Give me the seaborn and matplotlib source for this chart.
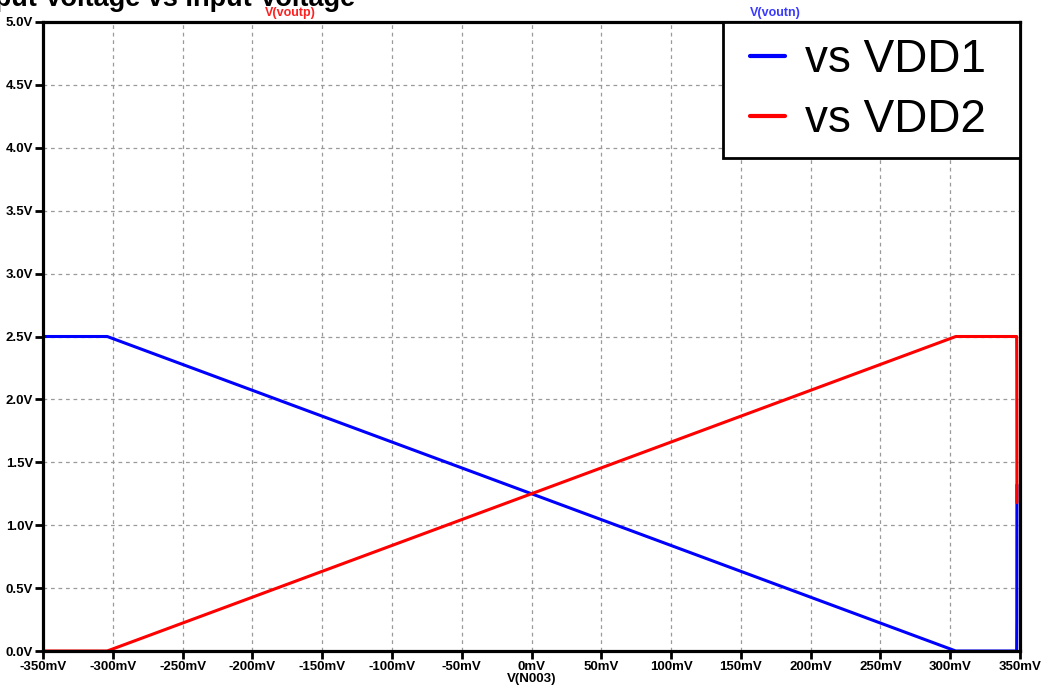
import numpy as np
import pandas as pd
import matplotlib
matplotlib.use("Agg")
import matplotlib.pyplot as plt
from matplotlib.lines import Line2D
from matplotlib.legend_handler import HandlerLine2D
import seaborn as sns

# Input sweep (mV) and the two output node voltages (V)
vin_mv = [-350, -304, 304, 347.6, 347.7, 347.8]
voutn = [2.5, 2.5, 0.0, 0.0, 0.25, 1.32]
voutp = [0.0, 0.0, 2.5, 2.5, 2.2, 1.18]

x_ticks_mv = [-350, -300, -250, -200, -150, -100, -50, 0, 50, 100, 150, 200, 250, 300, 350]
y_ticks_v = [0.0, 0.5, 1.0, 1.5, 2.0, 2.5, 3.0, 3.5, 4.0, 4.5, 5.0]

series_names = ["vs VDD1", "vs VDD2"]
series_colors = ["#0000ff", "#ff0000"]

df = pd.concat([
    pd.DataFrame({"vin": vin_mv, "vout": voutn, "trace": series_names[0]}),
    pd.DataFrame({"vin": vin_mv, "vout": voutp, "trace": series_names[1]}),
])

sns.set_style("white")
plt.rcParams["font.family"] = ["Liberation Sans", "DejaVu Sans"]
plt.rcParams["text.color"] = "black"
plt.rcParams["xtick.color"] = "black"
plt.rcParams["ytick.color"] = "black"
plt.rcParams["axes.labelcolor"] = "black"

fig = plt.figure(figsize=(10.49, 6.94), dpi=100)
ax = fig.add_axes([43 / 1049, 1 - 651 / 694, (1020 - 43) / 1049, (651 - 22) / 694])

sns.lineplot(data=df, x="vin", y="vout", hue="trace", palette=series_colors,
             hue_order=series_names, sort=False, estimator=None,
             linewidth=2.2, ax=ax, legend=True)

ax.set_xlim(-350, 350)
ax.set_ylim(0, 5)
ax.set_xticks(x_ticks_mv)
ax.set_xticklabels([f"{v}mV" for v in x_ticks_mv], fontweight="bold", fontsize=9.5)
ax.set_yticks(y_ticks_v)
ax.set_yticklabels([f"{v:.1f}V" for v in y_ticks_v], fontweight="bold", fontsize=9.5)
ax.tick_params(axis="both", direction="out", length=6, width=2, color="black",
               pad=1, bottom=True, left=True)
ax.grid(True, color="#9a9a9a", linestyle=(0, (3, 3)), linewidth=0.9)
for side in ["left", "bottom", "right", "top"]:
    ax.spines[side].set_visible(True)
    ax.spines[side].set_color("black")
    ax.spines[side].set_linewidth(2.3)

ax.set_xlabel("V(N003)", fontweight="bold", fontsize=9.5, labelpad=0)
ax.set_ylabel("")

# Legend box spanning the upper-right corner of the plot area
handles, labels = ax.get_legend_handles_labels()
leg = ax.legend(handles, labels, loc="upper right", mode="expand",
                bbox_to_anchor=(0.696, 0.0, 0.304, 1.0), borderaxespad=0,
                fontsize=33, handlelength=1.0, handletextpad=0.43,
                frameon=True, fancybox=False, borderpad=0.35, labelspacing=0.35,
                handler_map={Line2D: HandlerLine2D(xpad=0.24)})
leg.get_frame().set_edgecolor("black")
leg.get_frame().set_linewidth(2)
leg.get_frame().set_alpha(1)
for line in leg.get_lines():
    line.set_linewidth(3)
for txt in leg.get_texts():
    txt.set_color("black")

fig.text(290 / 1049, 1 - 13 / 694, "V(voutp)", color="#ff2020", fontweight="bold",
         fontsize=9, ha="center", va="center")
fig.text(775 / 1049, 1 - 13 / 694, "V(voutn)", color="#3a3aff", fontweight="bold",
         fontsize=9, ha="center", va="center")
fig.text(355 / 1049, 1 - 6 / 694, "Output Voltage vs Input Voltage",
         fontweight="bold", fontsize=19.5, ha="right", va="baseline")

fig.savefig("out.png", dpi=100)
